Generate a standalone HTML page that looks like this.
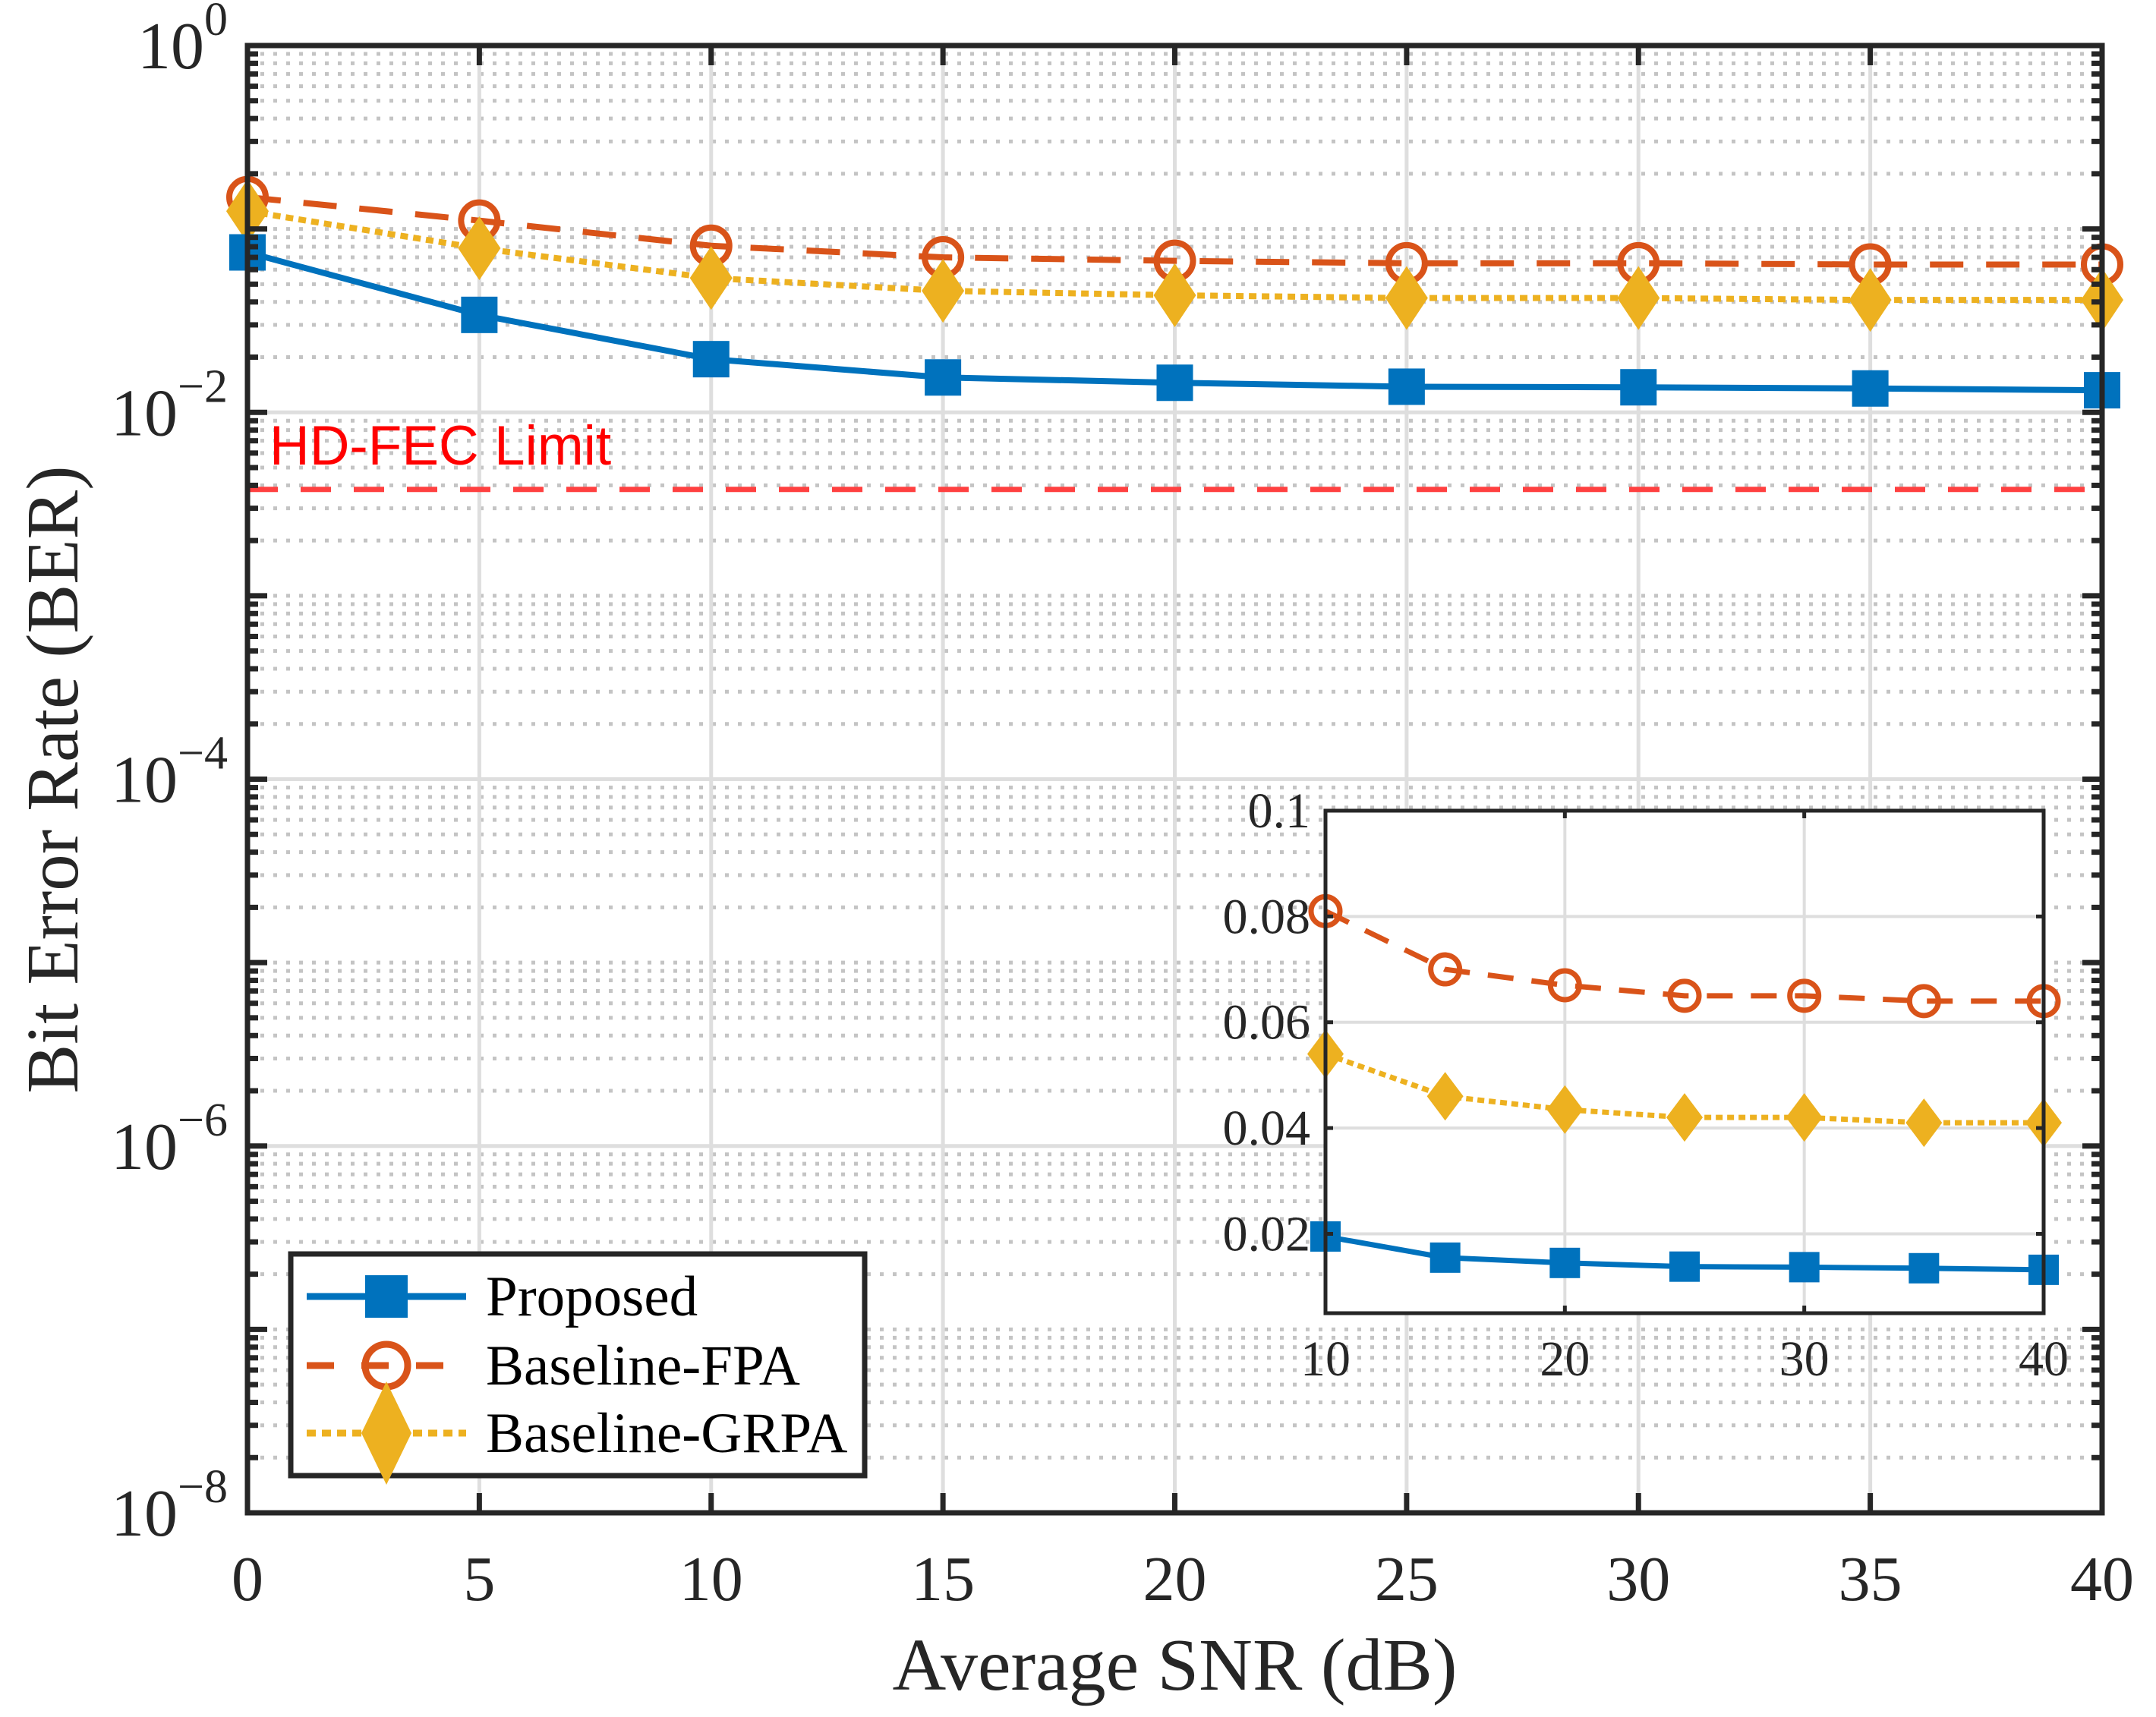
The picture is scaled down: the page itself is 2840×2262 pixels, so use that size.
<!DOCTYPE html>
<html><head><meta charset="utf-8"><style>html,body{margin:0;padding:0;background:#fff}svg{display:block}</style></head>
<body>
<svg id="chart" width="2840" height="2262" viewBox="0 0 2840 2262" xmlns="http://www.w3.org/2000/svg" font-family="'Liberation Serif', serif">
<g id="main"></g>
</svg>
<script>
const snr = [0,5,10,15,20,25,30,35,40];
const proposed = [0.0745,0.034,0.0195,0.0155,0.0145,0.0138,0.0137,0.0135,0.0132];
const fpa = [0.149,0.111,0.081,0.070,0.067,0.065,0.065,0.064,0.064];
const grpa = [0.125,0.0785,0.054,0.046,0.0435,0.042,0.042,0.041,0.041];
const hdFec = 0.0038;
const xTicks = [0,5,10,15,20,25,30,35,40];
const yDecades = [0,-2,-4,-6,-8];
const insetX = [10,15,20,25,30,35,40];
const insetXTicks = [10,20,30,40];
const insetYTicks = [0.02,0.04,0.06,0.08,0.1];
const insetYLabels = ['0.02','0.04','0.06','0.08','0.1'];

const NS='http://www.w3.org/2000/svg';
const g=document.getElementById('main');
function el(tag,attrs,parent){const e=document.createElementNS(NS,tag);for(const k in attrs)e.setAttribute(k,attrs[k]);(parent||g).appendChild(e);return e;}
const L=326,R=2769,T=60,B=1993;
const X=v=>L+(v-0)/(40-0)*(R-L);
const Y=v=>T+(0-Math.log10(v))/8*(B-T);
const BLUE='#0072BD',RED='#D95319',YEL='#EDB120';

for(let d=-8;d<0;d++){for(let m=2;m<=9;m++){const y=Y(m*Math.pow(10,d));
 const e=el('line',{x1:L,x2:R,y1:y,y2:y,stroke:'#c4c4c4','stroke-width':5,'stroke-dasharray':'5 12'});
 }}
for(let d=-7;d<0;d+=2){const y=Y(Math.pow(10,d));const e=el('line',{x1:L,x2:R,y1:y,y2:y,stroke:'#c4c4c4','stroke-width':5,'stroke-dasharray':'5 12'});}
xTicks.forEach(v=>{const e=el('line',{x1:X(v),x2:X(v),y1:T,y2:B,stroke:'#dedede','stroke-width':5});
 });
yDecades.forEach(d=>{const y=Y(Math.pow(10,d));const e=el('line',{x1:L,x2:R,y1:y,y2:y,stroke:'#dedede','stroke-width':5});
 });
let hl=el('line',{x1:L,x2:R,y1:Y(hdFec),y2:Y(hdFec),stroke:'#FF4040','stroke-width':7,'stroke-dasharray':'40 30'});

let ht=el('text',{x:355,y:612,fill:'#FF0000','font-size':73,'font-family':"'Liberation Sans', sans-serif"});ht.textContent='HD-FEC Limit';


function sq(cx,cy,s,c,p){const e=el('rect',{x:cx-s/2,y:cy-s/2,width:s,height:s,fill:c},p);}
function circ(cx,cy,r,c,w,p){const e=el('circle',{cx:cx,cy:cy,r:r,fill:'none',stroke:c,'stroke-width':w},p);}
function dia(cx,cy,w,h,c,p){const e=el('polygon',{points:`${cx},${cy-h} ${cx+w},${cy} ${cx},${cy+h} ${cx-w},${cy}`,fill:c},p);}
function series(xs,ys,fx,fy,c,dash,w,name,p){const pts=xs.map((x,i)=>fx(x)+','+fy(ys[i])).join(' ');
 const e=el('polyline',{points:pts,fill:'none',stroke:c,'stroke-width':w,'stroke-dasharray':dash},p);
 }

series(snr,fpa,X,Y,RED,'44 30',8,'line-fpa');
series(snr,grpa,X,Y,YEL,'10 7',8,'line-grpa');
series(snr,proposed,X,Y,BLUE,'none',8,'line-proposed');
snr.forEach((s,i)=>circ(X(s),Y(fpa[i]),24,RED,8));
snr.forEach((s,i)=>dia(X(s),Y(grpa[i]),28,42,YEL));
snr.forEach((s,i)=>sq(X(s),Y(proposed[i]),48,BLUE));

let ax=el('rect',{x:L,y:T,width:R-L,height:B-T,fill:'none',stroke:'#262626','stroke-width':7});

xTicks.forEach(v=>{el('line',{x1:X(v),x2:X(v),y1:B,y2:B-26,stroke:'#262626','stroke-width':7});el('line',{x1:X(v),x2:X(v),y1:T,y2:T+26,stroke:'#262626','stroke-width':7});
 const t=el('text',{x:X(v),y:2108,'text-anchor':'middle','font-size':84,fill:'#262626'});t.textContent=v;
 });
for(let d=-8;d<0;d++){for(let m=1;m<=9;m++){const y=Y(m*Math.pow(10,d));const len=m==1?26:14;
 el('line',{x1:L,x2:L+len,y1:y,y2:y,stroke:'#262626','stroke-width':7});el('line',{x1:R,x2:R-len,y1:y,y2:y,stroke:'#262626','stroke-width':7});}}
yDecades.forEach(d=>{const y=Y(Math.pow(10,d));
 const t=el('text',{x:300,y:y+30,'text-anchor':'end','font-size':88,fill:'#262626'});
 
 const a=el('tspan',{},t);a.textContent='10';const b=el('tspan',{dy:-44,'font-size':62},t);b.textContent=d==0?'0':'\u2212'+(-d);});
let xt=el('text',{x:(L+R)/2,y:2226,'text-anchor':'middle','font-size':98,fill:'#262626'});xt.textContent='Average SNR (dB)';

let yt=el('text',{x:0,y:0,'text-anchor':'middle','font-size':97,fill:'#262626',transform:'translate(102,1027) rotate(-90)'});yt.textContent='Bit Error Rate (BER)';


const lg=el('g',{});
el('rect',{x:383,y:1652,width:756,height:292,fill:'#fff',stroke:'#262626','stroke-width':7},lg);
const lx1=404,lx2=614,lc=509;const rows=[1708,1799,1888];
const names=['Proposed','Baseline-FPA','Baseline-GRPA'];
el('line',{x1:lx1,x2:lx2,y1:rows[0],y2:rows[0],stroke:BLUE,'stroke-width':9},lg);sq(lc,rows[0],56,BLUE,lg);
el('line',{x1:lx1,x2:lx2,y1:rows[1],y2:rows[1],stroke:RED,'stroke-width':9,'stroke-dasharray':'36 36'},lg);circ(lc,rows[1],28,RED,9,lg);
el('line',{x1:lx1,x2:lx2,y1:rows[2],y2:rows[2],stroke:YEL,'stroke-width':9,'stroke-dasharray':'12 8'},lg);dia(lc,rows[2],33,68,YEL,lg);
names.forEach((n,i)=>{const t=el('text',{x:640,y:rows[i]+25,'font-size':75,fill:'#000'},lg);t.textContent=n;
 });

const iL=1746,iR=2692,iT=1068,iB=1730;
const IX=v=>iL+(v-10)/30*(iR-iL);
const IY=v=>iB-(v-0.005)/(0.1-0.005)*(iB-iT);
const ins=el('g',{});
el('rect',{x:iL,y:iT,width:iR-iL,height:iB-iT,fill:'#fff'},ins);
insetXTicks.forEach(v=>el('line',{x1:IX(v),x2:IX(v),y1:iT,y2:iB,stroke:'#dedede','stroke-width':4},ins));
insetYTicks.forEach(v=>el('line',{x1:iL,x2:iR,y1:IY(v),y2:IY(v),stroke:'#dedede','stroke-width':4},ins));
const o=i=>i+2;
series(insetX,fpa.slice(2),IX,IY,RED,'34 24',7,'inset-line-fpa',ins);
series(insetX,grpa.slice(2),IX,IY,YEL,'9 6',7,'inset-line-grpa',ins);
series(insetX,proposed.slice(2),IX,IY,BLUE,'none',7,'inset-line-proposed',ins);
insetX.forEach((s,i)=>{circ(IX(s),IY(fpa[o(i)]),19,RED,7,ins);dia(IX(s),IY(grpa[o(i)]),24,32,YEL,ins);sq(IX(s),IY(proposed[o(i)]),40,BLUE,ins);});
el('rect',{x:iL,y:iT,width:iR-iL,height:iB-iT,fill:'none',stroke:'#262626','stroke-width':5},ins);
insetXTicks.forEach(v=>{el('line',{x1:IX(v),x2:IX(v),y1:iB,y2:iB-10,stroke:'#262626','stroke-width':5},ins);el('line',{x1:IX(v),x2:IX(v),y1:iT,y2:iT+10,stroke:'#262626','stroke-width':5},ins);
 const t=el('text',{x:IX(v),y:1812,'text-anchor':'middle','font-size':66,fill:'#262626'},ins);t.textContent=v;
 });
insetYTicks.forEach((v,i)=>{el('line',{x1:iL,x2:iL+10,y1:IY(v),y2:IY(v),stroke:'#262626','stroke-width':5},ins);el('line',{x1:iR,x2:iR-10,y1:IY(v),y2:IY(v),stroke:'#262626','stroke-width':5},ins);
 const t=el('text',{x:iL-20,y:IY(v)+22,'text-anchor':'end','font-size':66,fill:'#262626'},ins);t.textContent=insetYLabels[i];
 });
</script>
</body></html>
